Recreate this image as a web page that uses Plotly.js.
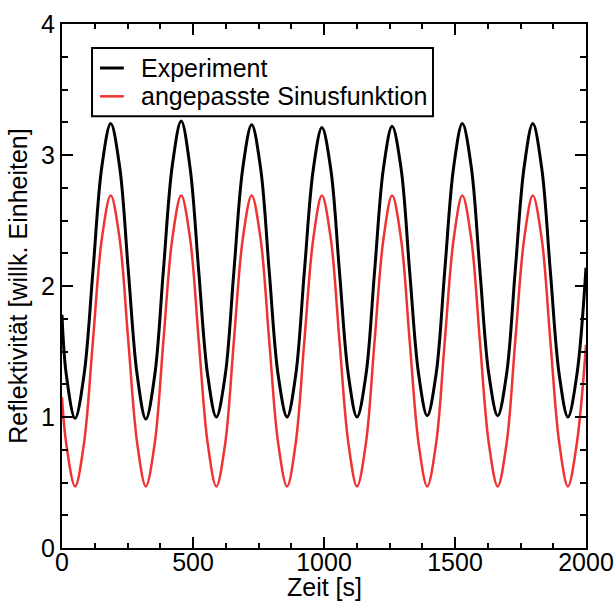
<!DOCTYPE html>
<html>
<head>
<meta charset="utf-8">
<script src="https://cdn.plot.ly/plotly-3.0.1.min.js"></script>
<style>html,body{margin:0;padding:0;background:#fff;}#chart{width:615px;height:601px;}</style>
</head>
<body>
<div id="chart"></div>
<script>
// Time axis samples [s] (read at extrema and between them)
const zeit = [0, 16, 50, 84, 118, 152, 186, 220, 253, 287, 320, 354, 387, 421, 455, 489, 522, 556, 589,
  623, 656, 690, 724, 758, 791, 825, 859, 892, 925, 959, 992, 1026, 1059, 1093, 1126,
  1160, 1193, 1227, 1260, 1294, 1327, 1361, 1394, 1428, 1461, 1495, 1528, 1562, 1595, 1629, 1663,
  1697, 1730, 1764, 1797, 1831, 1864, 1898, 1931, 1965, 2000];

// Experiment (black)
const experiment = [1.78, 1.33, 0.99, 1.32, 2.11, 2.91, 3.24, 2.91, 2.12, 1.32, 0.985, 1.32, 2.12, 2.92, 3.26, 2.90, 2.11, 1.32, 1.0,
  1.32, 2.11, 2.90, 3.23, 2.90, 2.11, 1.32, 1.0, 1.32, 2.11, 2.89, 3.21, 2.89, 2.11, 1.32, 1.0,
  1.32, 2.11, 2.90, 3.22, 2.90, 2.11, 1.33, 1.01, 1.33, 2.12, 2.91, 3.24, 2.91, 2.12, 1.33, 1.01,
  1.33, 2.12, 2.91, 3.24, 2.90, 2.11, 1.32, 1.0, 1.32, 2.14];

// Fitted sine (red)
const sinus = [1.15, 0.80, 0.47, 0.80, 1.58, 2.36, 2.69, 2.36, 1.58, 0.80, 0.47, 0.80, 1.58, 2.36, 2.69, 2.36, 1.58, 0.80, 0.47,
  0.80, 1.58, 2.36, 2.69, 2.36, 1.58, 0.80, 0.47, 0.80, 1.58, 2.36, 2.69, 2.36, 1.58, 0.80, 0.47,
  0.80, 1.58, 2.36, 2.69, 2.36, 1.58, 0.80, 0.47, 0.80, 1.58, 2.36, 2.69, 2.36, 1.58, 0.80, 0.47,
  0.80, 1.58, 2.36, 2.69, 2.36, 1.58, 0.80, 0.47, 0.80, 1.55];

const seriesNames = ["Experiment", "angepasste Sinusfunktion"];
const seriesColors = ["#000000", "#ef3333"];

const xTicks = [0, 500, 1000, 1500, 2000];
const xTickLabels = ["0", "500", "1000", "1500", "2000"];
const yTicks = [0, 1, 2, 3, 4];
const yTickLabels = ["0", "1", "2", "3", "4"];
const xTitle = "Zeit [s]";
const yTitle = "Reflektivität [willk. Einheiten]";

const FONT = "Liberation Sans, Arial, Helvetica, sans-serif";
const FS = 25;

const traces = [
  {x: zeit, y: experiment, name: seriesNames[0], mode: "lines",
   line: {color: seriesColors[0], width: 3, shape: "spline", smoothing: 1.0}},
  {x: zeit, y: sinus, name: seriesNames[1], mode: "lines",
   line: {color: seriesColors[1], width: 2.5, shape: "spline", smoothing: 1.0}}
];

const axisCommon = {
  showline: true, linewidth: 2, linecolor: "#000", mirror: "allticks",
  ticks: "inside", ticklen: 11, tickwidth: 2, tickcolor: "#000",
  showgrid: false, zeroline: false,
  tickfont: {family: FONT, size: FS, color: "#000"}
};

// Legend drawn as a box with line samples and labels (paper coords)
const legX0 = 0.0573, legX1 = 0.708, legY0 = 0.824, legY1 = 0.954;
const rowY = [0.916, 0.862];
const shapes = [
  {type: "rect", xref: "paper", yref: "paper", x0: legX0, x1: legX1, y0: legY0, y1: legY1,
   line: {color: "#000", width: 2}, fillcolor: "#fff", layer: "above"}
];
const annotations = [];
seriesNames.forEach((nm, i) => {
  shapes.push({type: "line", xref: "paper", yref: "paper", x0: 0.0725, x1: 0.118, y0: rowY[i], y1: rowY[i],
    line: {color: seriesColors[i], width: i === 0 ? 3 : 2.5}, layer: "above"});
  annotations.push({xref: "paper", yref: "paper", x: 0.147, y: rowY[i], xanchor: "left", yanchor: "middle",
    text: nm, showarrow: false, font: {family: FONT, size: FS, color: "#000"}});
});
// x-axis title placed just below the tick labels
annotations.push({xref: "paper", yref: "paper", x: 0.5, y: -0.0745, xanchor: "center", yanchor: "middle",
  text: xTitle, showarrow: false, font: {family: FONT, size: FS, color: "#000"}});

const layout = {
  width: 615, height: 601,
  margin: {l: 62, r: 29, t: 24, b: 53, pad: 0},
  paper_bgcolor: "#fff", plot_bgcolor: "#fff",
  showlegend: false,
  shapes: shapes,
  annotations: annotations,
  xaxis: Object.assign({}, axisCommon, {
    range: [0, 2000], tickvals: xTicks, ticktext: xTickLabels,
    ticklabelstandoff: -9,
    minor: {dtick: 125, tick0: 0, ticks: "inside", ticklen: 5, tickwidth: 2, tickcolor: "#000"}
  }),
  yaxis: Object.assign({}, axisCommon, {
    range: [0, 4], tickvals: yTicks, ticktext: yTickLabels,
    minor: {dtick: 0.25, tick0: 0, ticks: "inside", ticklen: 6, tickwidth: 2, tickcolor: "#000"},
    title: {text: yTitle, font: {family: FONT, size: FS, color: "#000"}, standoff: 6}
  })
};

Plotly.newPlot("chart", traces, layout, {displayModeBar: false, staticPlot: true});
</script>
</body>
</html>
